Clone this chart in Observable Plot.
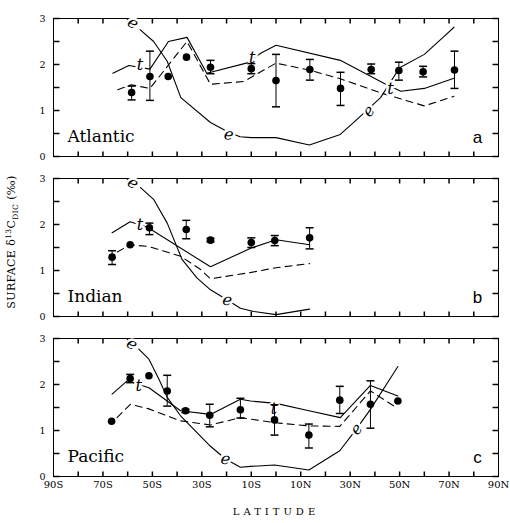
<!DOCTYPE html>
<html><head><meta charset="utf-8">
<script src="https://cdn.jsdelivr.net/npm/d3@7"></script>
<script src="https://cdn.jsdelivr.net/npm/@observablehq/plot@0.6"></script>
<style>
body{margin:0;background:#fff;}
#chart{position:relative;width:510px;height:523px;}
</style></head><body><div id="chart"></div>
<script>
const oceans = ["Atlantic", "Indian", "Pacific"];
const panelTags = ["a", "b", "c"];
const xTickVals = [-80,-70,-60,-50,-40,-30,-20,-10,0,10,20,30,40,50,60,70,80];
const xLabelVals = [-90,-70,-50,-30,-10,10,30,50,70,90];
const yTickVals = [0,0.5,1,1.5,2,2.5,3];
const yLabelVals = [0,1,2,3];

// ---- Atlantic ----
const atlObsLat = [-58.4,-51,-43.6,-36.2,-26.5,-10,0,13.7,26.1,38.5,49.7,59.5,72.2];
const atlObsVal = [1.39,1.74,1.74,2.16,1.94,1.91,1.65,1.89,1.48,1.89,1.87,1.84,1.88];
const atlObsLo  = [1.23,1.22,null,null,1.80,1.80,1.08,1.66,1.11,1.80,1.66,1.73,1.48];
const atlObsHi  = [1.53,2.29,null,null,2.09,2.02,2.22,2.11,1.83,2.01,2.05,1.96,2.29];
const atlTLat = [-66,-59.5,-51,-43.5,-36,-28,-12,-6,0,26,44,50.5,60,72];
const atlTVal = [1.81,1.98,1.90,2.50,2.59,1.81,2.03,2.25,2.42,2.09,1.58,1.42,1.48,1.70];
const atlDLat = [-64,-58.5,-51,-36,-26.5,-13,0,14,26,42.5,60,72];
const atlDVal = [1.45,1.56,1.48,2.50,1.57,1.63,2.03,1.87,1.69,1.38,1.10,1.31];
const atlELat = [-55,-49.5,-44,-38.5,-26.5,-19,-14.5,-10,0,13.5,26,32,42.3,50,60,68,72];
const atlEVal = [2.76,2.50,2.07,1.28,0.74,0.52,0.43,0.41,0.41,0.25,0.48,0.77,1.28,1.93,2.22,2.61,2.81];

// ---- Indian ----
const indObsLat = [-66.3,-59,-51.2,-36.3,-26.5,-10,-0.5,13.6];
const indObsVal = [1.29,1.56,1.93,1.89,1.66,1.61,1.65,1.71];
const indObsLo  = [1.13,null,1.78,1.69,1.62,1.50,1.54,1.47];
const indObsHi  = [1.43,null,2.03,2.09,1.70,1.71,1.76,1.93];
const indTLat = [-66.3,-59,-52,-26.5,-10,0,13.6];
const indTVal = [1.82,2.06,1.94,1.08,1.49,1.67,1.56];
const indDLat = [-64.2,-59,-51.4,-38.6,-30.5,-26.5,-10,0,13.6];
const indDVal = [1.40,1.56,1.52,1.31,1.02,0.82,0.96,1.06,1.15];
const indELat = [-54.8,-49.4,-44,-38,-32,-26.5,-19.7,-14.4,-9,0,13.6];
const indEVal = [2.80,2.54,2.03,1.24,0.84,0.58,0.36,0.18,0.11,0.04,0.16];

// ---- Pacific ----
const pacObsLat = [-66.5,-59,-51.4,-44,-36.6,-26.8,-14.4,-0.6,13.3,25.8,38.2,49.3];
const pacObsVal = [1.20,2.13,2.19,1.86,1.43,1.33,1.45,1.23,0.90,1.66,1.57,1.64];
const pacObsLo  = [null,2.04,null,1.53,1.39,1.08,1.27,0.90,0.62,1.37,1.05,null];
const pacObsHi  = [null,2.22,null,2.20,1.46,1.57,1.70,1.56,1.14,1.96,2.08,null];
const pacTLat = [-66.3,-60.2,-51.4,-38.6,-26.5,-14.4,-10.3,0,13.3,26,38.2,49.3];
const pacTVal = [1.79,2.08,1.93,1.43,1.35,1.68,1.64,1.59,1.43,1.28,1.98,1.75];
const pacDLat = [-64.3,-58.9,-51.4,-38.6,-26.5,-14.4,-0.6,13.3,25.8,38.2,48];
const pacDVal = [1.28,1.57,1.47,1.21,1.12,1.28,1.17,1.10,1.09,1.86,1.52];
const pacELat = [-55.5,-51.4,-47.4,-44,-38.6,-27,-20.4,-14.4,-10.3,-0.6,13.3,25.8,32.5,38.2,49.3];
const pacEVal = [2.77,2.55,2.12,1.72,1.32,0.68,0.38,0.20,0.22,0.25,0.14,0.56,1.03,1.46,2.39];

// ---- curve labels ----
const lblOcean = ["Atlantic","Atlantic","Atlantic","Atlantic","Atlantic","Atlantic","Indian","Indian","Indian","Pacific","Pacific","Pacific","Pacific","Pacific"];
const lblLat   = [-57.8,-19.1,37.5,-55,-9.6,46.3,-57.8,-19.7,-55,-58.2,-20.4,32.5,-55.5,-0.8];
const lblVal   = [2.90,0.48,0.99,2.0,2.14,1.46,2.90,0.36,2.0,2.88,0.38,1.03,1.98,1.46];
const lblText  = ["e","e","e","t","t","t","e","e","t","e","e","e","t","t"];
const lblRot   = [35,10,-50,0,0,0,35,10,0,35,10,-50,0,0];

// ---- build tables ----
const obsRows = (ocean, lat, val, lo, hi) => lat.map((d,i)=>({ocean, lat:d, val:val[i], lo:lo[i], hi:hi[i]}));
const lineRows = (ocean, lat, val) => lat.map((d,i)=>({ocean, lat:d, val:val[i]}));
const obs = [
  ...obsRows("Atlantic", atlObsLat, atlObsVal, atlObsLo, atlObsHi),
  ...obsRows("Indian", indObsLat, indObsVal, indObsLo, indObsHi),
  ...obsRows("Pacific", pacObsLat, pacObsVal, pacObsLo, pacObsHi)
];
const errs = obs.filter(d => d.lo != null);
const tLines = [...lineRows("Atlantic", atlTLat, atlTVal), ...lineRows("Indian", indTLat, indTVal), ...lineRows("Pacific", pacTLat, pacTVal)];
const dLines = [...lineRows("Atlantic", atlDLat, atlDVal), ...lineRows("Indian", indDLat, indDVal), ...lineRows("Pacific", pacDLat, pacDVal)];
const eLines = [...lineRows("Atlantic", atlELat, atlEVal), ...lineRows("Indian", indELat, indEVal), ...lineRows("Pacific", pacELat, pacEVal)];
const labels = lblText.map((t,i)=>({ocean: lblOcean[i], lat: lblLat[i], val: lblVal[i], text: t, rot: lblRot[i]}));
const xLabelRows = xLabelVals.map(v => ({ocean: "Pacific", lat: v}));
const tagRows = oceans.map((o,i)=>({ocean:o, tag: panelTags[i]}));

const fmtLat = v => v === 0 ? "0" : Math.abs(v) + (v < 0 ? "S" : "N");
const seg = (dx, dy) => ({draw(ctx){ ctx.moveTo(0,0); ctx.lineTo(dx,dy); }});
const cap = {draw(ctx){ ctx.moveTo(-4,0); ctx.lineTo(4,0); }};
const serif = "DejaVu Serif";

const plot = Plot.plot({
  width: 510, height: 523,
  marginTop: 17, marginBottom: 46, marginLeft: 53, marginRight: 12,
  x: {domain: [-90, 90], axis: null},
  y: {domain: [0, 3], axis: null},
  fy: {domain: oceans, axis: null, paddingInner: 0.14, paddingOuter: 0},
  style: {fontFamily: serif, background: "white", color: "black"},
  marks: [
    Plot.frame({stroke: "black", strokeWidth: 1}),
    // inward ticks
    Plot.dot(xTickVals, {x: d => d, y: 0, symbol: seg(0,-5), fill: "none", stroke: "black"}),
    Plot.dot(xTickVals, {x: d => d, y: 3, symbol: seg(0,5), fill: "none", stroke: "black"}),
    Plot.dot(yTickVals, {x: -90, y: d => d, symbol: seg(6,0), fill: "none", stroke: "black"}),
    Plot.dot(yTickVals, {x: 90, y: d => d, symbol: seg(-6,0), fill: "none", stroke: "black"}),
    // tick labels
    Plot.text(yLabelVals, {frameAnchor: "left", y: d => d, text: d => String(d), textAnchor: "end", dx: -8, fontSize: 9.5, fill: "black"}),
    Plot.text(xLabelRows, {x: "lat", fy: "ocean", frameAnchor: "bottom", text: d => fmtLat(d.lat), lineAnchor: "top", dy: 4, fontSize: 10, fill: "black"}),
    Plot.text([{ocean: "Pacific", t: "LATITUDE"}], {fy: "ocean", frameAnchor: "bottom", text: "t", lineAnchor: "middle", dy: 35, fontSize: 10, fill: "black"}),
    // model curves
    Plot.line(eLines, {x: "lat", y: "val", fy: "ocean", stroke: "black", strokeWidth: 1.1}),
    Plot.line(tLines, {x: "lat", y: "val", fy: "ocean", stroke: "black", strokeWidth: 1.1}),
    Plot.line(dLines, {x: "lat", y: "val", fy: "ocean", stroke: "black", strokeWidth: 1.1, strokeDasharray: "7,5"}),
    Plot.text(labels, {x: "lat", y: "val", fy: "ocean", text: "text", rotate: "rot", fontStyle: "italic", fontFamily: serif, fontSize: 16, fill: "black", stroke: "white", strokeWidth: 5}),
    // observations
    Plot.ruleX(errs, {x: "lat", y1: "lo", y2: "hi", fy: "ocean", stroke: "black", strokeWidth: 1}),
    Plot.dot(errs, {x: "lat", y: "lo", fy: "ocean", symbol: cap, fill: "none", stroke: "black"}),
    Plot.dot(errs, {x: "lat", y: "hi", fy: "ocean", symbol: cap, fill: "none", stroke: "black"}),
    Plot.dot(obs, {x: "lat", y: "val", fy: "ocean", r: 3.8, fill: "black"}),
    // panel names
    Plot.text(oceans, {fy: d => d, text: d => d, frameAnchor: "bottom-left", textAnchor: "start", dx: 14, dy: -20, lineAnchor: "middle", fontSize: 17, fill: "black"}),
    Plot.text(tagRows, {fy: "ocean", text: "tag", frameAnchor: "bottom-right", textAnchor: "middle", dx: -21, dy: -19, lineAnchor: "middle", fontSize: 17, fontFamily: "Liberation Sans", fill: "black"})
  ]
});

const svg = d3.select(plot);
svg.selectAll("text").filter(function(){ return this.textContent === "LATITUDE"; }).attr("letter-spacing", "4px");
const yt = svg.append("text")
  .attr("transform", "translate(15,242) rotate(-90)")
  .attr("text-anchor", "middle")
  .attr("font-family", serif)
  .attr("font-size", 11)
  .attr("letter-spacing", "0.4px")
  .attr("fill", "black");
yt.append("tspan").text("SURFACE \u03b4");
yt.append("tspan").attr("font-size", 7.5).attr("dy", -4).text("13");
yt.append("tspan").attr("dy", 4).text("C");
yt.append("tspan").attr("font-size", 7.5).attr("dy", 3).text("DIC");
yt.append("tspan").attr("dy", -3).text(" (\u2030)");

document.getElementById("chart").appendChild(plot);
</script>
</body></html>
